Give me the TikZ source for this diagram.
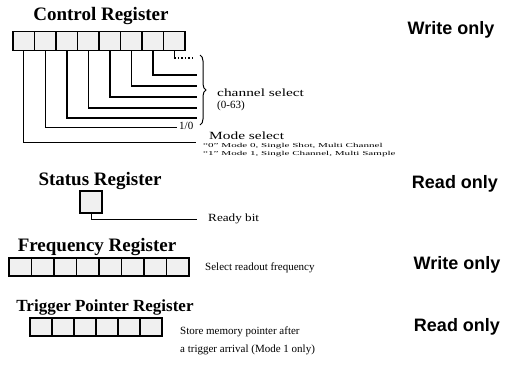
\documentclass[tikz,border=0pt]{standalone}
\usepackage{fontspec}
\setmainfont{Liberation Serif}
\newfontfamily\labelsans{Liberation Sans}
\usetikzlibrary{decorations.pathreplacing}
\begin{document}
\begin{tikzpicture}[x=1pt,y=-1pt,
  regbox/.style={draw, line width=1.6pt, fill=gray!12, minimum width=21.5pt, minimum height=19pt, inner sep=0pt},
  regtitle/.style={font=\bfseries\fontsize{19}{19}\selectfont, inner sep=0pt},
  access/.style={font=\labelsans\bfseries\fontsize{18}{18}\selectfont, inner sep=0pt},
  desc/.style={font=\fontsize{11}{11}\selectfont, inner sep=0pt, anchor=west},
  tiny/.style={inner sep=0pt, anchor=west},
  wire/.style={line width=1.5pt},
  thinwire/.style={line width=0.9pt}]
\useasboundingbox (0,0) rectangle (506,373);

% ---------- Control register ----------
\node[regtitle] (ctitle) at (101,16) {Control Register};
\foreach \i in {1,...,8}
  \node[regbox] (c\i) at ({23.75+21.5*(\i-1)},41) {};
\node[access] (wo1) at (451,30) {Write only};

\coordinate (e8) at (195,58);
\coordinate (e7) at (197,75);
\coordinate (e6) at (197,86);
\coordinate (e5) at (197,97);
\coordinate (e4) at (197,108);
\coordinate (e3) at (197,118);
\coordinate (e2) at (177,127);
\coordinate (e1) at (196,142);

\draw[wire] (c8.south) -- (c8.south |- e8);
\draw[wire, dotted] (c8.south |- e8) -- (e8);
\foreach \k in {7,6,5,4,3}
  \draw[wire] (c\k.south) |- (e\k);
\draw[thinwire] (c2.south) |- (e2);
\draw[thinwire] (c1.south) |- (e1);

\coordinate (bt) at (200,55);
\coordinate (bb) at (200,125);
\draw[line width=1pt, decorate, decoration={brace, amplitude=6pt}] (bt) -- (bb);

\node[desc] (chs) at (217,93) {\scalebox{1.4}[1]{channel select}};
\node[desc] (chr) at (217,106) {(0-63)};
\node[desc] (onezero) at (179,126) {1/0};
\node[desc] (mode) at (209,136) {\scalebox{1.4}[1]{Mode select}};
\node[tiny] (m0) at (203,146) {\scalebox{1.85}[1]{\fontsize{6}{6}\selectfont ``0'' Mode 0, Single Shot, Multi Channel}};
\node[tiny] (m1) at (203,154) {\scalebox{1.85}[1]{\fontsize{6}{6}\selectfont ``1'' Mode 1, Single Channel, Multi Sample}};

% ---------- Status register ----------
\node[regtitle] (stitle) at (100,181) {Status Register};
\node[regbox, minimum width=22pt, minimum height=22pt] (s1) at (91,202) {};
\coordinate (e9) at (197,219);
\draw[thinwire] (s1.south) |- (e9);
\node[desc] (ready) at (208,219) {\scalebox{1.2}[1]{Ready bit}};
\node[access] (ro1) at (455,184) {Read only};

% ---------- Frequency register ----------
\node[regtitle] (ftitle) at (97,247) {Frequency Register};
\foreach \i in {1,...,8}
  \node[regbox, minimum width=22.5pt, minimum height=18pt] (f\i) at ({20.25+22.5*(\i-1)},267) {};
\node[desc] (fdesc) at (205,268) {Select readout frequency};
\node[access] (wo2) at (457,265) {Write only};

% ---------- Trigger pointer register ----------
\node[regtitle, font=\bfseries\fontsize{17}{17}\selectfont] (ttitle) at (105,307) {Trigger Pointer Register};
\foreach \i in {1,...,6}
  \node[regbox, minimum width=22pt, minimum height=18pt] (t\i) at ({41+22*(\i-1)},327) {};
\node[desc] (td1) at (180,332) {Store memory pointer after};
\node[desc] (td2) at (180,350) {a trigger arrival (Mode 1 only)};
\node[access] (ro2) at (457,327) {Read only};
\end{tikzpicture}
\end{document}
